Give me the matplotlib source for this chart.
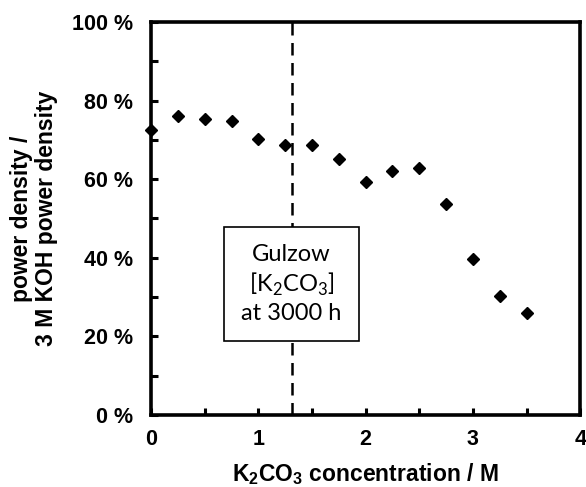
import matplotlib
matplotlib.use("Agg")
import matplotlib.pyplot as plt
from matplotlib.ticker import MultipleLocator, FuncFormatter

# datos
conc = [0.0, 0.25, 0.5, 0.75, 1.0, 1.25, 1.5, 1.75, 2.0, 2.25, 2.5, 2.75, 3.0, 3.25, 3.5]
ratio = [72.4, 76.1, 75.4, 74.7, 70.2, 68.6, 68.7, 65.0, 59.3, 62.1, 62.9, 53.6, 39.8, 30.3, 25.9]
gulzow_x = 1.31
box_text = "Gulzow\n[K$_2$CO$_3$]\nat 3000 h"

# subindices con la misma familia que el texto
plt.rcParams["mathtext.fontset"] = "custom"
plt.rcParams["mathtext.rm"] = "Lato"
plt.rcParams["mathtext.bf"] = "Liberation Sans:bold"

fig = plt.figure(figsize=(5.86, 4.87), dpi=100)
ax = fig.add_axes([0.258, 0.148, 0.732, 0.807])

ax.plot(conc, ratio, linestyle="none", marker="D", ms=6.5, color="black", clip_on=False, zorder=5)
ax.axvline(gulzow_x, color="black", linestyle=(0, (5, 3)), lw=1.8, zorder=1)

ax.text(gulzow_x, 33.3, box_text, ha="center", va="center", fontsize=17,
        family="Lato", linespacing=1.3, zorder=3,
        bbox=dict(boxstyle="square,pad=0.72", fc="white", ec="black", lw=1.2))

ax.set_xlim(0, 4)
ax.set_ylim(0, 100)
ax.xaxis.set_major_locator(MultipleLocator(1))
ax.xaxis.set_minor_locator(MultipleLocator(0.5))
ax.yaxis.set_major_locator(MultipleLocator(20))
ax.yaxis.set_minor_locator(MultipleLocator(10))
ax.yaxis.set_major_formatter(FuncFormatter(lambda v, p: "%d %%" % v))

for s in ax.spines.values():
    s.set_linewidth(2.6)
ax.tick_params(which="both", direction="in", width=2.2, length=5, top=False, right=False)
ax.tick_params(axis="y", which="major", labelsize=15.5, pad=13)
ax.tick_params(axis="x", which="major", labelsize=15.5, pad=10)
for lbl in ax.get_xticklabels() + ax.get_yticklabels():
    lbl.set_fontweight("bold")
    lbl.set_family("Liberation Sans")

ax.set_xlabel("K$_\\mathbf{2}$CO$_\\mathbf{3}$ concentration / M", fontsize=16.5,
              fontweight="bold", family="Liberation Sans", labelpad=8)
ax.set_ylabel("power density /\n3 M KOH power density", fontsize=16.5,
              fontweight="bold", family="Liberation Sans", labelpad=10, linespacing=1.1)

fig.savefig("out.png", dpi=100)
